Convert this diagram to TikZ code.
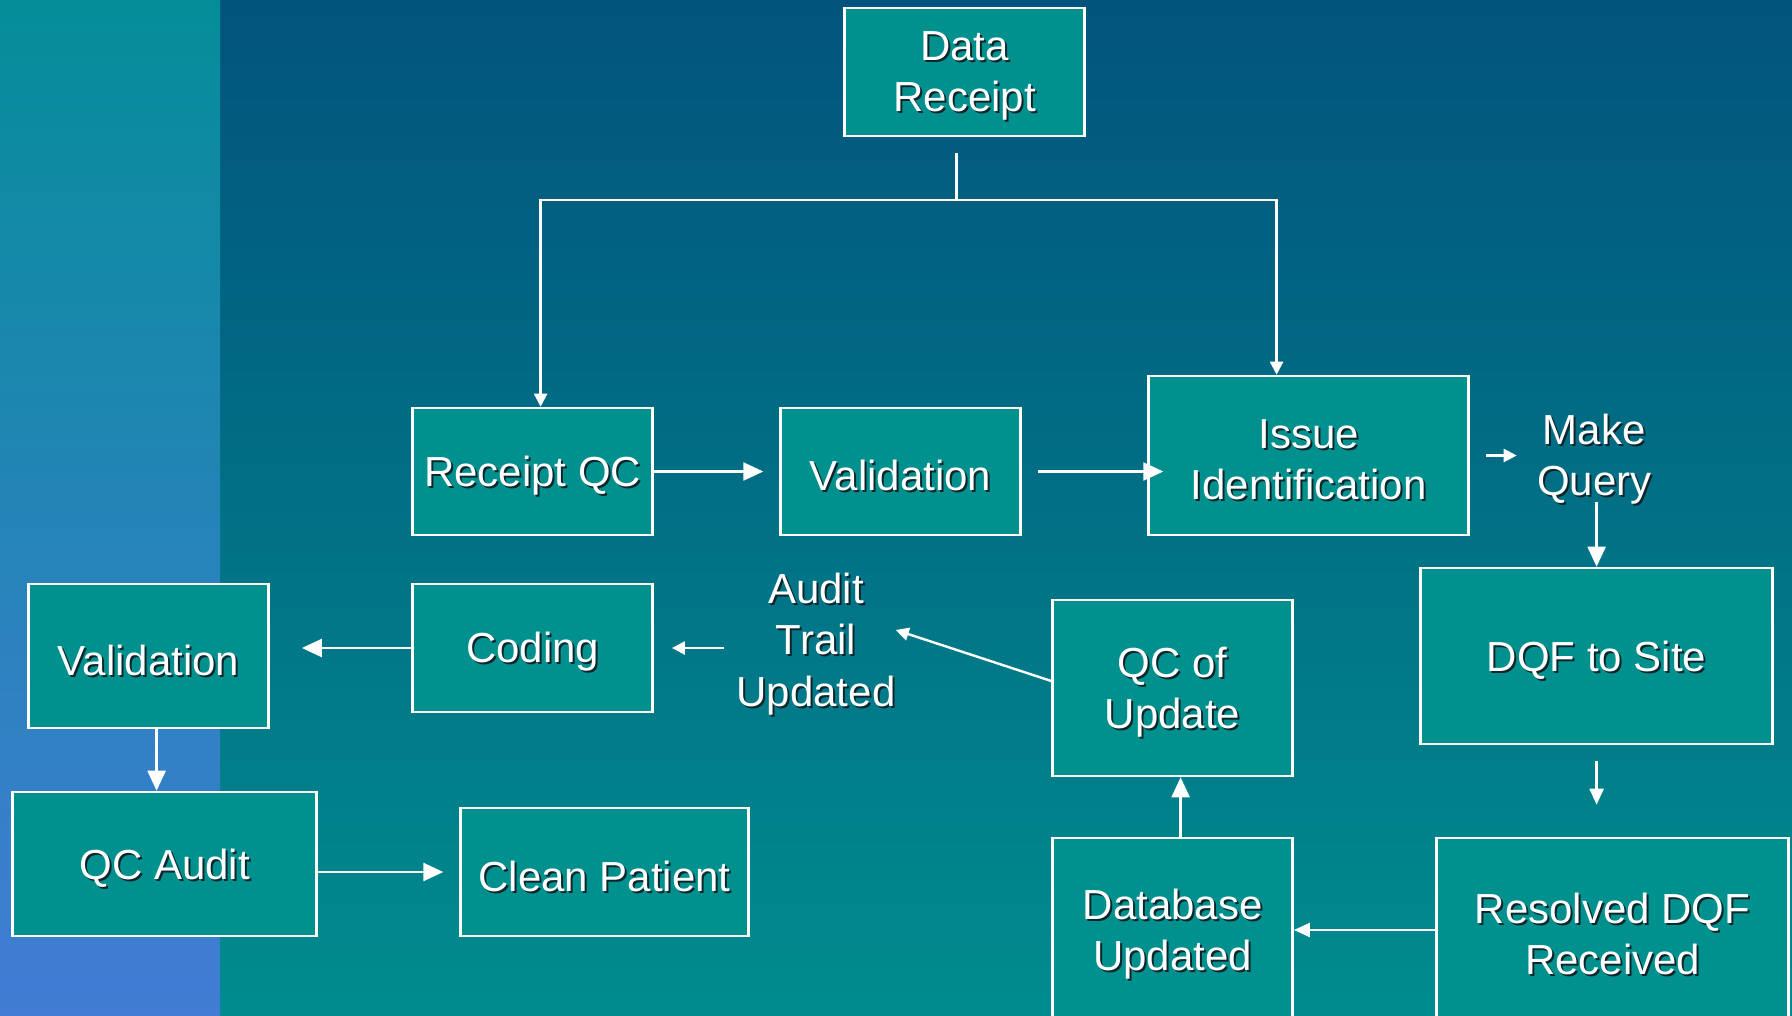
\documentclass[tikz,border=0pt]{standalone}
\usepackage{fontspec}
\setmainfont{Liberation Sans}
\usetikzlibrary{arrows.meta}
\newcommand{\txtshadow}[1]{\raisebox{-2.5pt}[\height][\depth]{\rlap{\kern1pt\raisebox{-1pt}{\color[RGB]{12,38,44}#1}}#1}}

\begin{document}
\begin{tikzpicture}[x=0.5pt,y=0.5pt,yscale=-1,
	flowbox/.style={draw={rgb,255:red,255;green,255;blue,255}, line width=1.3pt, fill={rgb,255:red,0;green,145;blue,143}, text=white, align=center, inner sep=0pt, font=\fontsize{21}{25.7}\selectfont},
	flowtext/.style={text=white, align=center, inner sep=0pt, font=\fontsize{21}{25.7}\selectfont},
	wline/.style={draw=white, line width=1.2pt},
	bighead/.style={-{Triangle[length=10pt,width=9pt]}},
	midhead/.style={-{Triangle[length=8pt,width=7pt]}},
	smallhead/.style={-{Triangle[length=6.5pt,width=6.5pt]}}]
				\path[use as bounding box] (0,0) rectangle (1792,1016);
				
				%Background
				\fill[top color={rgb,255:red,2;green,84;blue,125}, middle color={rgb,255:red,0;green,118;blue,134}, bottom color={rgb,255:red,0;green,140;blue,142}] (220,0) rectangle (1792,1016);
				\fill[top color={rgb,255:red,5;green,141;blue,153}, bottom color={rgb,255:red,66;green,124;blue,212}] (0,0) rectangle (220,1016);
				
				%Shape: Rectangle
				\node[flowbox, minimum width=120pt, minimum height=64pt] (dr) at (964.6,72) {\txtshadow{Data}\\\txtshadow{Receipt}};
				\node[flowbox, minimum width=120pt, minimum height=63.5pt] (rqc) at (532.6,471.5) {\txtshadow{Receipt QC}};
				\node[flowbox, minimum width=120pt, minimum height=63.5pt] (val) at (900.6,471.5) {\txtshadow{Validation}};
				\node[flowbox, minimum width=160pt, minimum height=79.5pt] (iss) at (1308.6,455.5) {\txtshadow{Issue}\\\txtshadow{Identification}};
				\node[flowbox, minimum width=176pt, minimum height=88pt] (dqf) at (1596.6,656) {\txtshadow{DQF to Site}};
				\node[flowbox, minimum width=176pt, minimum height=92pt] (res) at (1612.6,930) {\txtshadow{Resolved DQF}\\\txtshadow{Received}};
				\node[flowbox, minimum width=120pt, minimum height=92pt] (dbu) at (1172.6,930) {\txtshadow{Database}\\\txtshadow{Updated}};
				\node[flowbox, minimum width=120pt, minimum height=88pt] (qcu) at (1172.6,688) {\txtshadow{QC of}\\\txtshadow{Update}};
				\node[flowbox, minimum width=120pt, minimum height=64pt] (cod) at (532.6,648) {\txtshadow{Coding}};
				\node[flowbox, minimum width=120pt, minimum height=72pt] (val2) at (148.6,656) {\txtshadow{Validation}};
				\node[flowbox, minimum width=152pt, minimum height=72pt] (qca) at (164.6,864) {\txtshadow{QC Audit}};
				\node[flowbox, minimum width=144pt, minimum height=64pt] (cln) at (604.6,872) {\txtshadow{Clean Patient}};
				
				%Text
				\node[flowtext] (mq) at (1594.3,455) {\txtshadow{Make}\\\txtshadow{Query}};
				\node[flowtext] (atu) at (816,640) {\txtshadow{Audit}\\\txtshadow{Trail}\\\txtshadow{Updated}};
				
				%Straight Lines
				\coordinate (split) at (956.6,200);
				\draw[wline, shorten <=8pt] (dr.south -| split) -- (split);
				\draw[wline, smallhead] (split) -| ([xshift=4pt]rqc.north);
				\draw[wline, smallhead] (split) -| ([xshift=-16pt]iss.north);
				\draw[wline, bighead, shorten >=8pt] (rqc.east) -- (val.west);
				\draw[wline, bighead, shorten <=8pt, shorten >=-8pt] (val.east) -- (val.east -| iss.west);
				\draw[wline, smallhead, shorten <=8pt, shorten >=10pt] (iss.east) -- (iss.east -| mq.west);
				\draw[wline, bighead] (mq.south -| dqf.north) -- (dqf.north);
				\draw[wline, midhead, shorten <=8pt, shorten >=16pt] (dqf.south) -- (dqf.south |- res.north);
				\draw[wline, midhead] (res.west) -- (res.west -| dbu.east);
				\draw[wline, bighead] ([xshift=4pt]dbu.north) -- ([xshift=4pt]qcu.south);
				\draw[wline, smallhead] ([yshift=-3.5pt]qcu.west) -- ([yshift=-5pt]atu.east);
				\draw[wline, smallhead, shorten <=6pt, shorten >=9pt] (atu.west |- cod.east) -- (cod.east);
				\draw[wline, bighead, shorten >=16pt] (cod.west) -- (cod.west -| val2.east);
				\draw[wline, bighead] ([xshift=4pt]val2.south) -- ([xshift=4pt]val2.south |- qca.north);
				\draw[wline, bighead, shorten >=8pt] (qca.east |- cln.west) -- (cln.west);
				
\end{tikzpicture}
\end{document}
